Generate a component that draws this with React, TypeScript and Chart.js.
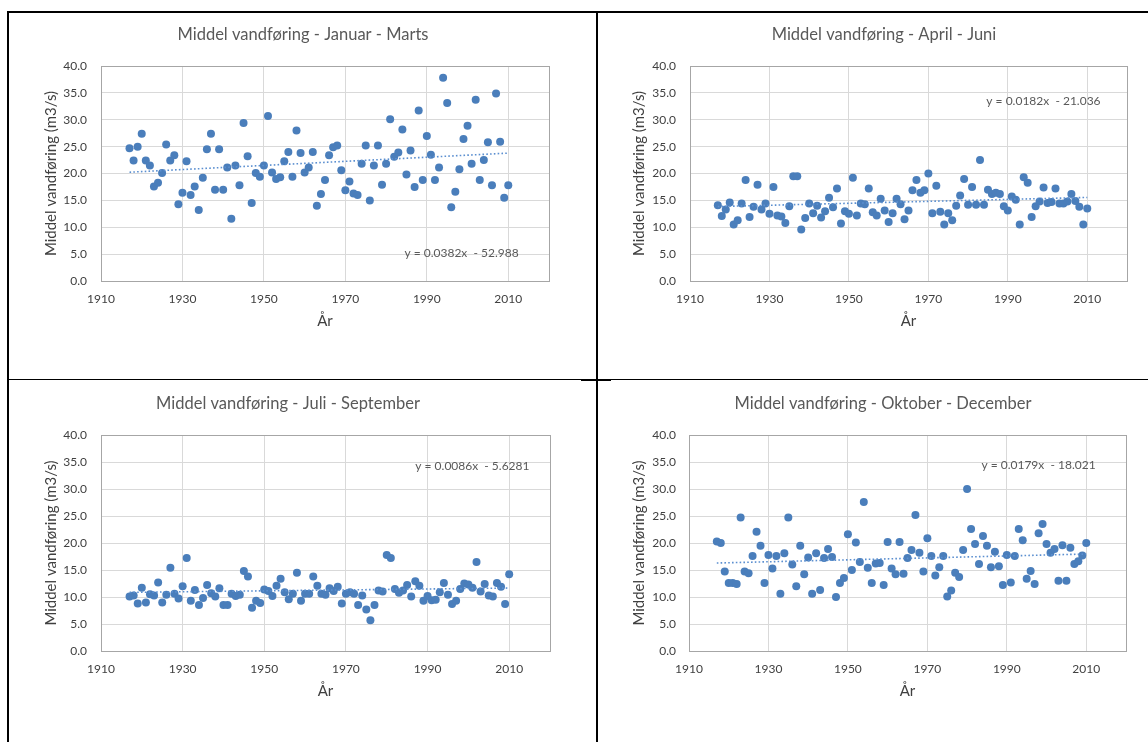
import React, { useEffect, useRef } from 'react';
import { Chart, registerables } from 'chart.js';

Chart.register(...registerables);

// ---------------- DATA ----------------
const years = [
  1917, 1918, 1919, 1920, 1921, 1922, 1923, 1924, 1925, 1926,
  1927, 1928, 1929, 1930, 1931, 1932, 1933, 1934, 1935, 1936,
  1937, 1938, 1939, 1940, 1941, 1942, 1943, 1944, 1945, 1946,
  1947, 1948, 1949, 1950, 1951, 1952, 1953, 1954, 1955, 1956,
  1957, 1958, 1959, 1960, 1961, 1962, 1963, 1964, 1965, 1966,
  1967, 1968, 1969, 1970, 1971, 1972, 1973, 1974, 1975, 1976,
  1977, 1978, 1979, 1980, 1981, 1982, 1983, 1984, 1985, 1986,
  1987, 1988, 1989, 1990, 1991, 1992, 1993, 1994, 1995, 1996,
  1997, 1998, 1999, 2000, 2001, 2002, 2003, 2004, 2005, 2006,
  2007, 2008, 2009, 2010,
];

const janMar = [
  24.7, 22.4, 25.0, 27.4, 22.4, 21.5, 17.6, 18.3, 20.1, 25.4,
  22.4, 23.4, 14.3, 16.4, 22.3, 16.0, 17.6, 13.2, 19.2, 24.5,
  27.4, 17.0, 24.5, 17.0, 21.1, 11.6, 21.5, 17.8, 29.4, 23.2,
  14.5, 20.1, 19.4, 21.5, 30.7, 20.2, 19.0, 19.3, 22.3, 24.0,
  19.4, 28.0, 23.8, 20.2, 21.1, 24.0, 14.0, 16.2, 18.8, 23.4,
  24.9, 25.2, 20.6, 16.9, 18.5, 16.3, 16.0, 21.8, 25.2, 15.0,
  21.5, 25.2, 17.9, 21.8, 30.1, 23.1, 23.9, 28.2, 19.8, 24.3,
  17.5, 31.7, 18.8, 27.0, 23.5, 18.8, 21.1, 37.8, 33.1, 13.7,
  16.6, 20.8, 26.4, 28.9, 21.8, 33.7, 18.8, 22.5, 25.8, 17.8,
  34.9, 25.9, 15.5, 17.8,
];

const aprJun = [
  14.1, 12.1, 13.3, 14.6, 10.5, 11.3, 14.4, 18.8, 11.9, 13.8,
  17.9, 13.3, 14.4, 12.5, 17.5, 12.2, 12.0, 10.8, 13.9, 19.5,
  19.5, 9.6, 11.7, 14.4, 12.6, 14.0, 11.8, 13.0, 15.5, 13.7,
  17.2, 10.7, 13.0, 12.5, 19.2, 12.2, 14.4, 14.3, 17.2, 12.8,
  12.2, 15.3, 13.1, 11.0, 12.6, 15.3, 14.3, 11.5, 13.1, 16.9,
  18.8, 16.4, 16.9, 20.0, 12.6, 17.7, 12.9, 10.5, 12.6, 11.3,
  14.0, 15.9, 19.0, 14.2, 17.5, 14.2, 22.5, 14.2, 17.0, 16.2,
  16.4, 16.2, 13.9, 13.1, 15.7, 15.1, 10.5, 19.3, 18.3, 11.9,
  13.9, 14.8, 17.4, 14.5, 14.7, 17.2, 14.4, 14.4, 14.8, 16.2,
  14.9, 13.8, 10.5, 13.5,
];

const julSep = [
  10.1, 10.3, 8.8, 11.7, 9.0, 10.5, 10.3, 12.7, 9.0, 10.4,
  15.4, 10.6, 9.7, 12.0, 17.2, 9.3, 11.3, 8.5, 9.8, 12.2,
  10.7, 10.1, 11.6, 8.5, 8.5, 10.6, 10.2, 10.4, 14.8, 13.8,
  8.0, 9.3, 8.9, 11.4, 11.1, 10.2, 12.1, 13.4, 10.9, 9.6,
  10.6, 14.5, 9.3, 10.6, 10.6, 13.8, 12.1, 10.6, 10.4, 11.6,
  11.1, 11.9, 8.8, 10.6, 10.9, 10.6, 8.5, 10.3, 7.7, 5.7,
  8.5, 11.2, 11.0, 17.8, 17.2, 11.5, 10.8, 11.2, 12.2, 10.1,
  12.9, 12.1, 9.3, 10.2, 9.4, 9.5, 10.9, 12.6, 10.4, 8.7,
  9.3, 11.5, 12.5, 12.3, 11.7, 16.5, 11.0, 12.4, 10.3, 10.1,
  12.6, 11.9, 8.7, 14.2,
];

const oktDec = [
  20.3, 20.0, 14.7, 12.6, 12.6, 12.4, 24.7, 14.7, 14.4, 17.6,
  22.1, 19.5, 12.6, 17.8, 15.3, 17.6, 10.6, 18.1, 24.7, 16.0,
  12.0, 19.5, 14.2, 17.3, 10.6, 18.1, 11.3, 17.2, 18.9, 17.4,
  10.0, 12.6, 13.5, 21.6, 15.0, 20.1, 16.5, 27.6, 15.4, 12.6,
  16.2, 16.3, 12.2, 20.2, 15.3, 14.2, 20.2, 14.3, 17.2, 18.7,
  25.2, 18.2, 14.7, 20.9, 17.6, 14.0, 15.5, 17.6, 10.1, 11.2,
  14.5, 13.7, 18.7, 30.0, 22.6, 19.8, 16.1, 21.3, 19.5, 15.5,
  18.4, 15.7, 12.2, 17.8, 12.7, 17.6, 22.6, 20.5, 13.4, 14.8,
  12.4, 21.8, 23.5, 19.8, 18.2, 18.9, 13.0, 19.6, 13.0, 19.1,
  16.1, 16.6, 17.7, 20.0,
];

const titles = [
  'Middel vandføring - Januar - Marts',
  'Middel vandføring - April - Juni',
  'Middel vandføring - Juli - September',
  'Middel vandføring - Oktober - December',
];
const slopes = [0.0382, 0.0182, 0.0086, 0.0179];
const intercepts = [-52.988, -21.036, -5.6281, -18.021];
const equations = [
  'y = 0.0382x  - 52.988',
  'y = 0.0182x  - 21.036',
  'y = 0.0086x  - 5.6281',
  'y = 0.0179x  - 18.021',
];
const xTickValues = [1910, 1930, 1950, 1970, 1990, 2010];
const yAxisTitle = 'Middel vandføring (m3/s)';
const xAxisTitle = 'År';

// ---------------- LAYOUT (page coordinates) ----------------
const panelLayouts = [
  { canvas: { x: 10, y: 14, w: 584, h: 364 }, area: { l: 101, t: 66, r: 549, b: 281 }, title: { x: 303, y: 35 }, yTitleX: 50.7, tickRight: 87, eq: { x: 1984.5, y: 5.2 } },
  { canvas: { x: 600, y: 14, w: 547, h: 364 }, area: { l: 690, t: 66, r: 1127, b: 281 }, title: { x: 884, y: 35 }, yTitleX: 639.5, tickRight: 676, eq: { x: 1984.6, y: 33.5 } },
  { canvas: { x: 10, y: 382, w: 584, h: 359 }, area: { l: 101, t: 435, r: 550, b: 651 }, title: { x: 288, y: 404 }, yTitleX: 50.7, tickRight: 87, eq: { x: 1987, y: 34.3 } },
  { canvas: { x: 600, y: 382, w: 547, h: 359 }, area: { l: 689, t: 435, r: 1126, b: 651 }, title: { x: 883, y: 404 }, yTitleX: 639.5, tickRight: 676, eq: { x: 1983.6, y: 34.4 } },
];
const seriesList = [janMar, aprJun, julSep, oktDec];

const FONT = 'Lato, "Open Sans", sans-serif';
const X_AXIS_H = 50;
const AXIS_TITLE_SIZE = 15;

const decorPlugin = {
  id: 'decor',
  beforeDatasetsDraw(chart: any) {
    const { ctx, chartArea: a } = chart;
    ctx.save();
    ctx.strokeStyle = '#a6a6a6';
    ctx.lineWidth = 1;
    ctx.strokeRect(Math.round(a.left) + 0.5, Math.round(a.top) + 0.5, Math.round(a.right - a.left), Math.round(a.bottom - a.top));
    ctx.restore();
  },
  afterDraw(chart: any, _args: any, opts: any) {
    const { ctx, scales } = chart;
    ctx.save();
    ctx.fillStyle = '#595959';
    ctx.font = `16.5px ${FONT}`;
    ctx.textAlign = 'center';
    ctx.textBaseline = 'middle';
    ctx.fillText(opts.title, opts.titleX, opts.titleY);
    ctx.font = `12px ${FONT}`;
    ctx.textAlign = 'left';
    ctx.fillText(opts.eqText, scales.x.getPixelForValue(opts.eqX), scales.y.getPixelForValue(opts.eqY));
    ctx.restore();
  },
};

function buildConfig(i: number): any {
  const L = panelLayouts[i];
  const c = L.canvas;
  const a = L.area;
  const vals = seriesList[i];
  const x0 = years[0];
  const x1 = years[years.length - 1];
  const trend = [
    { x: x0, y: slopes[i] * x0 + intercepts[i] },
    { x: x1, y: slopes[i] * x1 + intercepts[i] },
  ];
  const titleHalf = (AXIS_TITLE_SIZE * 1.2) / 2;
  return {
    type: 'scatter',
    data: {
      datasets: [
        {
          data: trend,
          showLine: true,
          borderColor: '#5b8fd0',
          borderWidth: 1.6,
          borderDash: [1.6, 2.2],
          pointRadius: 0,
          fill: false,
          order: 0,
        },
        {
          data: years.map((yr, k) => ({ x: yr, y: vals[k] })),
          backgroundColor: '#4a7ebb',
          borderColor: '#4a7ebb',
          borderWidth: 0,
          pointRadius: 4,
          order: 1,
        },
      ],
    },
    options: {
      responsive: false,
      animation: false,
      devicePixelRatio: 1,
      layout: {
        padding: {
          left: 0,
          top: a.t - c.y,
          right: c.x + c.w - a.r,
          bottom: c.y + c.h - a.b - X_AXIS_H,
        },
      },
      plugins: {
        legend: { display: false },
        tooltip: { enabled: false },
        title: { display: false },
        decor: {
          title: titles[i],
          titleX: L.title.x - c.x,
          titleY: L.title.y - c.y,
          eqText: equations[i],
          eqX: L.eq.x,
          eqY: L.eq.y,
        },
      },
      scales: {
        x: {
          type: 'linear',
          min: 1910,
          max: 2020,
          afterBuildTicks: (s: any) => {
            s.ticks = xTickValues.map((v) => ({ value: v }));
          },
          afterFit: (s: any) => {
            s.height = X_AXIS_H;
          },
          grid: { color: '#d9d9d9', lineWidth: 1, drawTicks: false },
          border: { display: false },
          ticks: {
            padding: 11,
            color: '#404040',
            font: { family: FONT, size: 12 },
            callback: (v: any) => String(v),
            maxRotation: 0,
            autoSkip: false,
          },
          title: {
            display: true,
            text: xAxisTitle,
            color: '#404040',
            font: { family: FONT, size: AXIS_TITLE_SIZE },
            padding: { top: 0, bottom: 1 },
          },
        },
        y: {
          type: 'linear',
          min: 0,
          max: 40,
          afterFit: (s: any) => {
            s.width = a.l - c.x;
          },
          grid: { color: '#d9d9d9', lineWidth: 1, drawTicks: false },
          border: { display: false },
          ticks: {
            stepSize: 5,
            padding: a.l - L.tickRight,
            color: '#404040',
            font: { family: FONT, size: 12 },
            callback: (v: any) => Number(v).toFixed(1),
          },
          title: {
            display: true,
            text: yAxisTitle,
            color: '#404040',
            font: { family: FONT, size: AXIS_TITLE_SIZE },
            padding: { top: L.yTitleX - c.x - titleHalf, bottom: 0 },
          },
        },
      },
    },
    plugins: [decorPlugin],
  };
}

function Panel({ index }: { index: number }) {
  const ref = useRef<HTMLCanvasElement>(null);
  const c = panelLayouts[index].canvas;
  useEffect(() => {
    if (!ref.current) return;
    const chart = new Chart(ref.current, buildConfig(index));
    return () => chart.destroy();
  }, [index]);
  return (
    <canvas
      ref={ref}
      width={c.w}
      height={c.h}
      style={{ position: 'absolute', left: c.x, top: c.y, width: c.w, height: c.h }}
    />
  );
}

const line = (left: number, top: number, width: number, height: number) => (
  <div style={{ position: 'absolute', left, top, width, height, background: '#000' }} />
);

export default function App() {
  return (
    <div
      style={{
        position: 'absolute',
        left: 0,
        top: 0,
        width: 1148,
        height: 742,
        overflow: 'hidden',
        background: '#fff',
      }}
    >
      {panelLayouts.map((_, i) => (
        <Panel key={i} index={i} />
      ))}
      {line(8, 11, 1140, 2)}
      {line(7, 11, 2, 731)}
      {line(596, 11, 2, 731)}
      {line(8, 379, 1140, 1)}
      {line(581, 379, 30, 2)}
    </div>
  );
}
